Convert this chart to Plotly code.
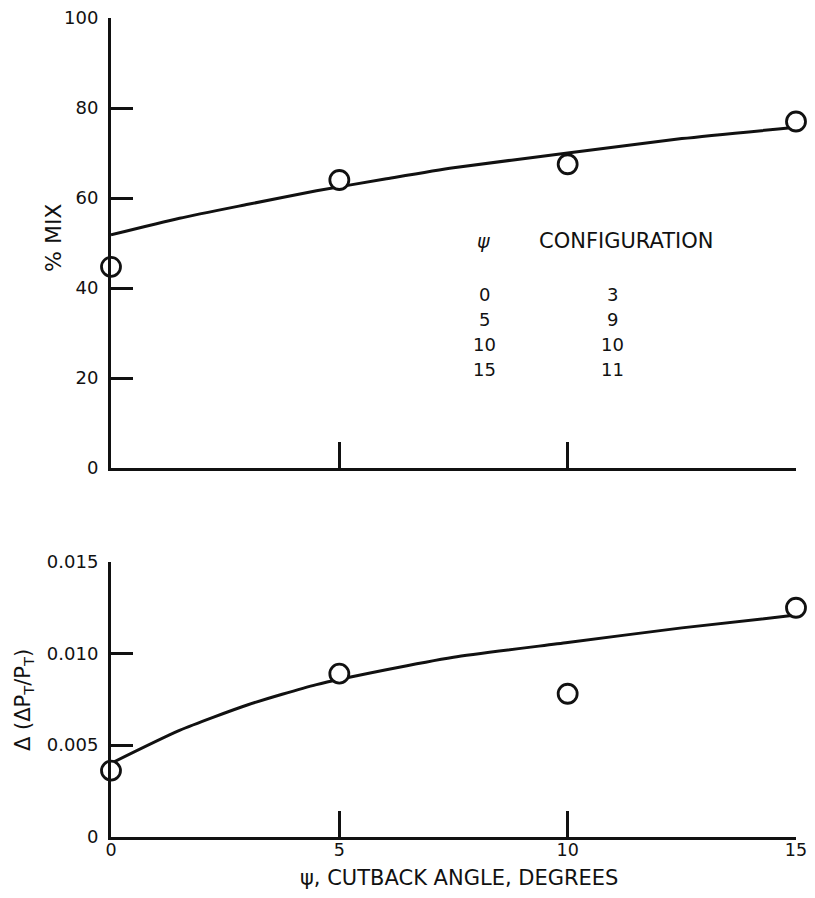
import plotly.graph_objects as go

# ---- data ----
psi = [0, 5, 10, 15]
mix_pct = [44.7, 64.0, 67.5, 77.0]
dpt = [0.0036, 0.0089, 0.0078, 0.0125]

fit_x = [0, 1.5, 3, 4.5, 6, 7.5, 10, 12.5, 15]
fit_mix = [51.8, 55.5, 58.6, 61.6, 64.2, 66.7, 70.0, 73.2, 75.7]
fit_dpt = [0.0040, 0.0058, 0.0072, 0.0083, 0.0091, 0.0098, 0.0106, 0.0114, 0.0121]

mix_ticks = [0, 20, 40, 60, 80, 100]
dpt_ticks = [0, 0.005, 0.010, 0.015]
dpt_ticklabels = ["0", "0.005", "0.010", "0.015"]
x_ticks = [0, 5, 10, 15]

legend_psi = ["0", "5", "10", "15"]
legend_config = ["3", "9", "10", "11"]

FONT = "DejaVu Sans, Liberation Sans, Arial, sans-serif"
INK = "#111111"
OFF = 8                 # page body margin
W, H = 815 - 2 * OFF, 898 - 2 * OFF

def px_x(p):            # p: pixel position on the page
    return (p - OFF) / W

def px_y(p):
    return 1 - (p - OFF) / H

fig = go.Figure()

line_style = dict(color=INK, width=3, shape="spline", smoothing=0.6)
marker_style = dict(symbol="circle", size=19, color="white", line=dict(color=INK, width=2.8))

fig.add_trace(go.Scatter(x=fit_x, y=fit_mix, mode="lines", line=line_style,
                         xaxis="x", yaxis="y", showlegend=False, hoverinfo="skip"))
fig.add_trace(go.Scatter(x=psi, y=mix_pct, mode="markers", cliponaxis=False, marker=marker_style,
                         xaxis="x", yaxis="y", showlegend=False))
fig.add_trace(go.Scatter(x=fit_x, y=fit_dpt, mode="lines", line=line_style,
                         xaxis="x2", yaxis="y2", showlegend=False, hoverinfo="skip"))
fig.add_trace(go.Scatter(x=psi, y=dpt, mode="markers", cliponaxis=False, marker=marker_style,
                         xaxis="x2", yaxis="y2", showlegend=False))

xdom = [px_x(111), px_x(796)]
axis_common = dict(showgrid=False, zeroline=False, showline=True, linecolor=INK, linewidth=3,
                   ticks="inside", tickcolor=INK, tickwidth=2.5, automargin=False,
                   ticklabeloverflow="allow",
                   tickfont=dict(family=FONT, size=18, color=INK))

fig.update_layout(
    width=W, height=H,
    margin=dict(l=0, r=0, t=0, b=0, autoexpand=False),
    paper_bgcolor="white", plot_bgcolor="rgba(0,0,0,0)",
    xaxis=dict(domain=xdom, range=[0, 15], tickvals=x_ticks[1:], showticklabels=False, ticklen=26,
               anchor="y", **axis_common),
    yaxis=dict(domain=[px_y(468), px_y(18)], range=[0, 100], tickvals=mix_ticks, ticklen=22,
               anchor="x", ticklabelstandoff=6, **axis_common),
    xaxis2=dict(domain=xdom, range=[0, 15], tickvals=x_ticks, ticktext=[str(t) for t in x_ticks], ticklen=26,
                anchor="y2", ticklabelstandoff=-5, **axis_common),
    yaxis2=dict(domain=[px_y(836.5), px_y(562)], range=[0, 0.015], tickvals=dpt_ticks, ticktext=dpt_ticklabels,
                ticklen=22, anchor="x2", ticklabelstandoff=6, **axis_common),
)
fig.update_xaxes(tickfont_size=17.5, selector=dict(anchor="y2"))

ann = []
ann.append(dict(text="% MIX", xref="paper", yref="paper", x=px_x(53), y=px_y(238), showarrow=False,
                xanchor="center", yanchor="middle", textangle=-90, font=dict(family=FONT, size=22, color=INK)))
ann.append(dict(text="\u0394 (\u0394P<sub>T</sub>/P<sub>T</sub>)", xref="paper", yref="paper", x=px_x(24), y=px_y(700),
                xanchor="center", yanchor="middle", showarrow=False, textangle=-90,
                font=dict(family=FONT, size=21, color=INK)))
ann.append(dict(text="\u03c8, CUTBACK ANGLE, DEGREES", xref="paper", yref="paper", x=px_x(459), y=0, yshift=-2,
                xanchor="center", yanchor="bottom", showarrow=False, font=dict(family=FONT, size=21, color=INK)))
ann.append(dict(text="<i>\u03c8</i>", xref="paper", yref="paper", x=px_x(483), y=px_y(241), showarrow=False,
                xanchor="center", yanchor="middle", font=dict(family=FONT, size=19, color=INK)))
ann.append(dict(text="CONFIGURATION", xref="paper", yref="paper", x=px_x(537), y=px_y(241), showarrow=False,
                xanchor="left", yanchor="middle", font=dict(family=FONT, size=21, color=INK)))
row_y = [295, 320, 345, 369]
for ps, cf, yy in zip(legend_psi, legend_config, row_y):
    ann.append(dict(text=ps, xref="paper", yref="paper", x=px_x(484), y=px_y(yy), showarrow=False,
                    xanchor="center", yanchor="middle", font=dict(family=FONT, size=18, color=INK)))
    ann.append(dict(text=cf, xref="paper", yref="paper", x=px_x(612), y=px_y(yy), showarrow=False,
                    xanchor="center", yanchor="middle", font=dict(family=FONT, size=18, color=INK)))
fig.update_layout(annotations=ann)

fig.write_html("out.html")
